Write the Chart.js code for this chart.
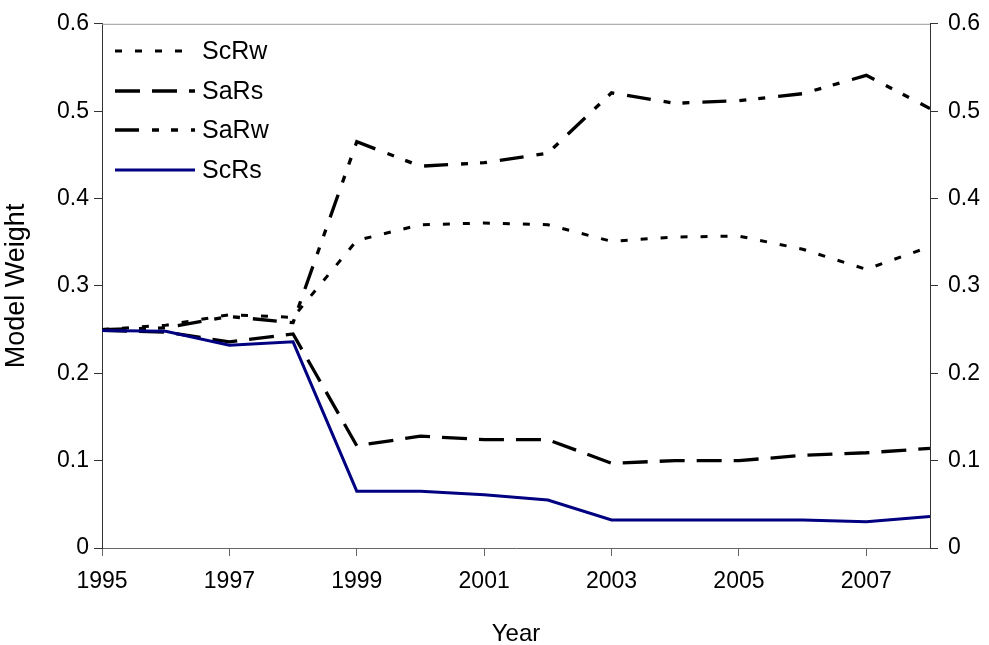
<!DOCTYPE html>
<html>
<head>
<meta charset="utf-8">
<script src="https://cdn.jsdelivr.net/npm/chart.js@4.4.1/dist/chart.umd.min.js"></script>
<style>
  html, body { margin: 0; padding: 0; background: #fff; }
  #wrap { width: 989px; height: 645px; position: relative; }
</style>
</head>
<body>
<div id="wrap"><canvas id="chart"></canvas></div>
<script>
// data
const years = [1995, 1996, 1997, 1998, 1999, 2000, 2001, 2002, 2003, 2004, 2005, 2006, 2007, 2008];
const tickYears = [1995, 1997, 1999, 2001, 2003, 2005, 2007];

const scRw = [0.250, 0.255, 0.267, 0.264, 0.352, 0.370, 0.372, 0.370, 0.351, 0.356, 0.357, 0.342, 0.319, 0.345];
const saRs = [0.249, 0.247, 0.236, 0.245, 0.117, 0.128, 0.124, 0.124, 0.097, 0.100, 0.100, 0.106, 0.109, 0.114];
const saRw = [0.250, 0.252, 0.265, 0.258, 0.465, 0.437, 0.441, 0.452, 0.521, 0.509, 0.512, 0.520, 0.541, 0.503];
const scRs = [0.249, 0.248, 0.232, 0.236, 0.065, 0.065, 0.061, 0.055, 0.032, 0.032, 0.032, 0.032, 0.030, 0.036];

const FONT = "'Liberation Sans', Arial, sans-serif";

const pts = (arr) => arr.map((v, i) => ({ x: years[i], y: v }));
const fmt = (v) => String(+Number(v).toFixed(1));

// legend drawn inside the plot, top-left
const insideLegend = {
    id: "insideLegend",
    afterDraw(chart){
        const ctx = chart.ctx;
        const a = chart.chartArea;
        ctx.save();
        chart.data.datasets.forEach((ds, i) => {
            const y = Math.round(a.top + 27 + i * 39.7);
            ctx.beginPath();
            ctx.setLineDash(ds.borderDash || []);
            ctx.lineDashOffset = 0;
            ctx.strokeStyle = ds.borderColor;
            ctx.lineWidth = ds.borderWidth;
            ctx.lineCap = "butt";
            ctx.moveTo(a.left + 13, y);
            ctx.lineTo(a.left + 93, y);
            ctx.stroke();
            ctx.setLineDash([]);
            ctx.fillStyle = "#000";
            ctx.font = "25px " + FONT;
            ctx.textBaseline = "middle";
            ctx.textAlign = "left";
            ctx.fillText(ds.label, a.left + 100, y + 1);
        });
        ctx.restore();
    }
};

// top border line of the plot box
const topBorder = {
    id: "topBorder",
    afterDraw(chart){
        const ctx = chart.ctx;
        const a = chart.chartArea;
        ctx.save();
        ctx.strokeStyle = "#999";
        ctx.lineWidth = 1;
        ctx.beginPath();
        ctx.moveTo(a.left, a.top + 0.5);
        ctx.lineTo(a.right, a.top + 0.5);
        ctx.stroke();
        ctx.restore();
    }
};

const yAxis = (pos, w) => ({
    type: "linear",
    position: pos,
    min: 0,
    max: 0.6,
    afterFit: (s) => { s.width = w; },
    border: { display: true, color: "#333", width: 1 },
    grid: { drawOnChartArea: false, drawTicks: true, tickLength: 8, color: "#333" },
    ticks: {
        stepSize: 0.1,
        color: "#000",
        font: { family: FONT, size: 23 },
        padding: pos === "left" ? 5 : 10,
        callback: fmt
    }
});

new Chart(document.getElementById("chart"), {
    type: "line",
    data: {
        datasets: [
            { label: "ScRw", data: pts(scRw), borderColor: "#000", borderWidth: 3, borderDash: [7, 13], order: 1 },
            { label: "SaRs", data: pts(saRs), borderColor: "#000", borderWidth: 3.3, borderDash: [25, 12], order: 1 },
            { label: "SaRw", data: pts(saRw), borderColor: "#000", borderWidth: 3.3, borderDash: [24, 13, 7, 12, 7, 13], order: 1 },
            { label: "ScRs", data: pts(scRs), borderColor: "#000080", borderWidth: 3, order: 0 }
        ]
    },
    options: {
        responsive: true,
        maintainAspectRatio: false,
        animation: false,
        layout: { padding: { top: 18, left: 0, right: 0, bottom: 0 } },
        elements: { point: { radius: 0, hoverRadius: 0 }, line: { tension: 0, fill: false } },
        plugins: { legend: { display: false }, tooltip: { enabled: false } },
        scales: {
            x: {
                type: "linear",
                position: "bottom",
                min: 1995,
                max: 2008,
                afterFit: (s) => { s.height = 97; },
                afterBuildTicks: (s) => { s.ticks = tickYears.map(v => ({ value: v })); },
                border: { display: true, color: "#666", width: 1 },
                grid: { drawOnChartArea: false, drawTicks: true, tickLength: 8, color: "#666" },
                ticks: {
                    color: "#000",
                    font: { family: FONT, size: 23 },
                    padding: 12,
                    maxRotation: 0,
                    autoSkip: false,
                    callback: (v) => String(v)
                },
                title: {
                    display: true,
                    text: "Year",
                    color: "#000",
                    font: { family: FONT, size: 24 },
                    padding: { top: 14, bottom: -4 }
                }
            },
            y: Object.assign(yAxis("left", 102), {
                title: {
                    display: true,
                    text: "Model Weight",
                    color: "#000",
                    font: { family: FONT, size: 27 },
                    padding: { top: 0, bottom: 2 }
                }
            }),
            y2: yAxis("right", 59)
        }
    },
    plugins: [insideLegend, topBorder]
});
</script>
</body>
</html>
